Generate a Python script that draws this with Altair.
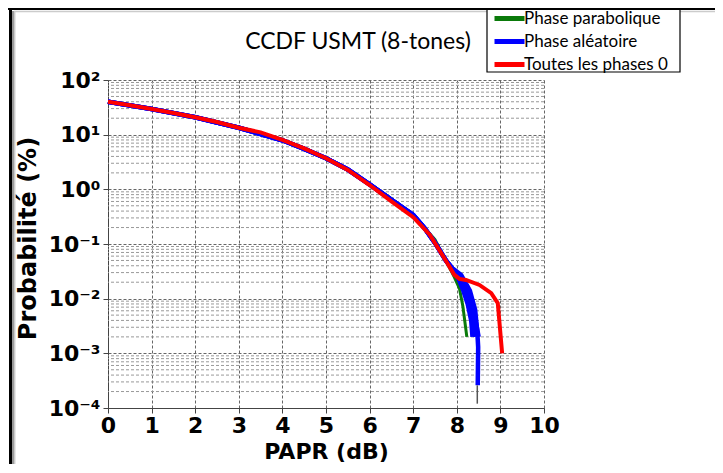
import altair as alt
import pandas as pd

# ---- data ----
series_names = ["Phase parabolique", "Phase aléatoire", "Toutes les phases 0"]
series_colors = ["#0a7a0a", "#0000ff", "#ff0000"]

x_red = [0, 0.5, 1, 1.5, 2, 2.5, 3, 3.5, 4, 4.5, 5, 5.5, 6, 6.5, 7, 7.38, 7.69, 7.94, 8.06, 8.21, 8.52, 8.79, 8.94, 9.04]
y_red = [40, 34.5, 29.5, 25, 20.8, 17, 13.4, 11, 8.0, 5.6, 3.7, 2.26, 1.2, 0.6, 0.31, 0.148, 0.059, 0.0275, 0.023, 0.022, 0.0178, 0.0126, 0.0083, 0.001]

x_green = [0, 1, 2, 3, 4, 5, 5.5, 6, 6.5, 7, 7.5, 7.94, 8.06, 8.14, 8.23]
y_green = [40, 29.5, 20.8, 13.4, 8.0, 3.75, 2.35, 1.27, 0.67, 0.34, 0.12, 0.025, 0.0155, 0.0072, 0.002]

x_blue_common = [0, 1, 2, 3, 4, 4.5, 5, 5.5, 6, 6.5, 7, 7.25, 7.5, 7.75]
y_blue_common = [40, 29.5, 20.8, 13.4, 7.9, 5.5, 3.7, 2.3, 1.23, 0.64, 0.34, 0.2, 0.105, 0.05]
blue_branches_x = [
    [7.85, 7.95, 8.05, 8.15, 8.25, 8.33, 8.36],
    [7.9, 8.05, 8.15, 8.28, 8.37, 8.42],
    [7.95, 8.1, 8.25, 8.38, 8.46, 8.5],
    [7.9, 8.1, 8.3, 8.42, 8.47, 8.49, 8.48],
]
blue_branches_y = [
    [0.04, 0.03, 0.022, 0.014, 0.008, 0.004, 0.002],
    [0.035, 0.026, 0.02, 0.01, 0.0045, 0.002],
    [0.03, 0.024, 0.016, 0.007, 0.003, 0.002],
    [0.036, 0.027, 0.014, 0.0063, 0.0025, 0.0013, 0.00026],
]

# thin grey drop line below the blue curve end
drop_x = [8.47]
drop_y1 = [0.00026]
drop_y2 = [0.00012]

decades = [1e-4, 1e-3, 1e-2, 1e-1, 1, 10, 100]
x_ticks = [0, 1, 2, 3, 4, 5, 6, 7, 8, 9, 10]

# ---- build tables ----
rows = []
for x, y in zip(x_green, y_green):
    rows.append({"papr": x, "prob": y, "series": series_names[0], "run": "g", "o": len(rows)})
for i, (bx, by) in enumerate(zip(blue_branches_x, blue_branches_y)):
    for x, y in zip(x_blue_common + bx, y_blue_common + by):
        rows.append({"papr": x, "prob": y, "series": series_names[1], "run": f"b{i}", "o": len(rows)})
for x, y in zip(x_red, y_red):
    rows.append({"papr": x, "prob": y, "series": series_names[2], "run": "r", "o": len(rows)})
df = pd.DataFrame(rows)

minor = [m * d for d in decades[:-1] for m in range(2, 10)]
df_minor = pd.DataFrame({"v": minor})
df_drop = pd.DataFrame({"x": drop_x, "y1": drop_y1, "y2": drop_y2})

W, H = 436, 328
PT, PL, PR, PB = 72, 100, 171, 56
xscale = alt.Scale(domain=[0, 10], nice=False)
yscale = alt.Scale(type="log", domain=[1e-4, 100], nice=False)

x_axis = alt.Axis(
    values=x_ticks, title="PAPR (dB)", grid=True, gridDash=[3, 2], gridColor="#555",
    gridOpacity=0.9, labelFont="DejaVu Sans", labelFontWeight="bold", labelFontSize=22,
    labelColor="black", titleFont="DejaVu Sans", titleFontWeight="bold", titleFontSize=22,
    titleColor="black", tickSize=5, labelPadding=2, domainColor="#444", tickColor="#444",
    titleY=50, titleBaseline="alphabetic", labelFlush=False,
)
y_axis = alt.Axis(
    values=decades, title="Probabilité (%)", grid=True, gridDash=[3, 2], gridColor="#666",
    labelExpr="'10' + ['⁻⁴','⁻³','⁻²','⁻¹','⁰','¹','²'][round(log(datum.value)/LN10)+4]",
    labelFont="DejaVu Sans", labelFontWeight="bold", labelFontSize=22, labelColor="black",
    titleFont="DejaVu Sans", titleFontWeight="bold", titleFontSize=24, titleColor="black",
    tickSize=5, labelPadding=3, domainColor="#444", tickColor="#444",
    titleX=-80, titleY=158, titleBaseline="middle", labelFlush=False,
)

color = alt.Color("series:N", scale=alt.Scale(domain=series_names, range=series_colors),
                  sort=series_names, title=None,
                  legend=alt.Legend(orient="none", legendX=380, legendY=-71,
                                    symbolType="M-0.5,0H4.5", symbolStrokeWidth=5, symbolSize=144,
                                    labelFont="Lato", labelFontSize=17, labelColor="black",
                                    padding=1, rowPadding=2, labelOffset=18, labelLimit=300))

minor_grid = alt.Chart(df_minor).mark_rule(color="#999", strokeDash=[3, 2], strokeWidth=1).encode(
    y=alt.Y("v:Q", scale=yscale, axis=y_axis)
)

base = alt.Chart(df)
def line_layer(name, width):
    return base.transform_filter(alt.datum.series == name).mark_line(strokeWidth=width).encode(
        x=alt.X("papr:Q", scale=xscale, axis=x_axis),
        y=alt.Y("prob:Q", scale=yscale, axis=y_axis),
        color=color,
        detail="run:N",
        order="o:Q",
    )

green = line_layer(series_names[0], 3)
blue = line_layer(series_names[1], 4.5)
red = line_layer(series_names[2], 4)

drop = alt.Chart(df_drop).mark_rule(color="#555", strokeWidth=1.5).encode(
    x=alt.X("x:Q", scale=xscale, axis=x_axis),
    y=alt.Y("y1:Q", scale=yscale, axis=y_axis),
    y2="y2:Q",
)

title = alt.Chart(pd.DataFrame({"t": ["CCDF USMT (8-tones)"]})).mark_text(
    font="Lato", fontSize=23, color="black", align="center", baseline="middle"
).encode(text="t:N", x=alt.value(250), y=alt.value(-38))

RIGHT = W + PR
frame_df = pd.DataFrame({"k": [0]})
legend_box = alt.Chart(frame_df).mark_rect(fill="white", stroke="black", strokeWidth=1.2).encode(
    x=alt.value(379), x2=alt.value(572), y=alt.value(-70.5), y2=alt.value(-8))
frame_top = alt.Chart(frame_df).mark_rule(color="black", strokeWidth=2).encode(
    x=alt.value(-PL), x2=alt.value(RIGHT), y=alt.value(-71))
frame_left = alt.Chart(frame_df).mark_rule(color="black", strokeWidth=3).encode(
    x=alt.value(-97.5), y=alt.value(-PT), y2=alt.value(H + PB))
frame_left_mid = alt.Chart(frame_df).mark_rule(color="#999", strokeWidth=2).encode(
    x=alt.value(-95), y=alt.value(-69), y2=alt.value(H + PB))
frame_top_in = alt.Chart(frame_df).mark_rule(color="#cccccc", strokeWidth=1.5).encode(
    x=alt.value(-94), x2=alt.value(RIGHT), y=alt.value(-68.5))
frame_left_in = alt.Chart(frame_df).mark_rule(color="#cccccc", strokeWidth=1.5).encode(
    x=alt.value(-93.3), y=alt.value(-69), y2=alt.value(H + PB))

chart = alt.layer(
    minor_grid, green, blue, red, drop, title,
    frame_top, frame_left, frame_left_mid, frame_top_in, frame_left_in, legend_box,
).properties(
    width=W, height=H,
    autosize=alt.AutoSizeParams(type="none"),
    padding={"left": PL, "top": PT, "right": PR, "bottom": PB},
    background="white",
).configure_view(stroke=None)

chart.save("out.html", embed_options={"renderer": "svg", "actions": False})
